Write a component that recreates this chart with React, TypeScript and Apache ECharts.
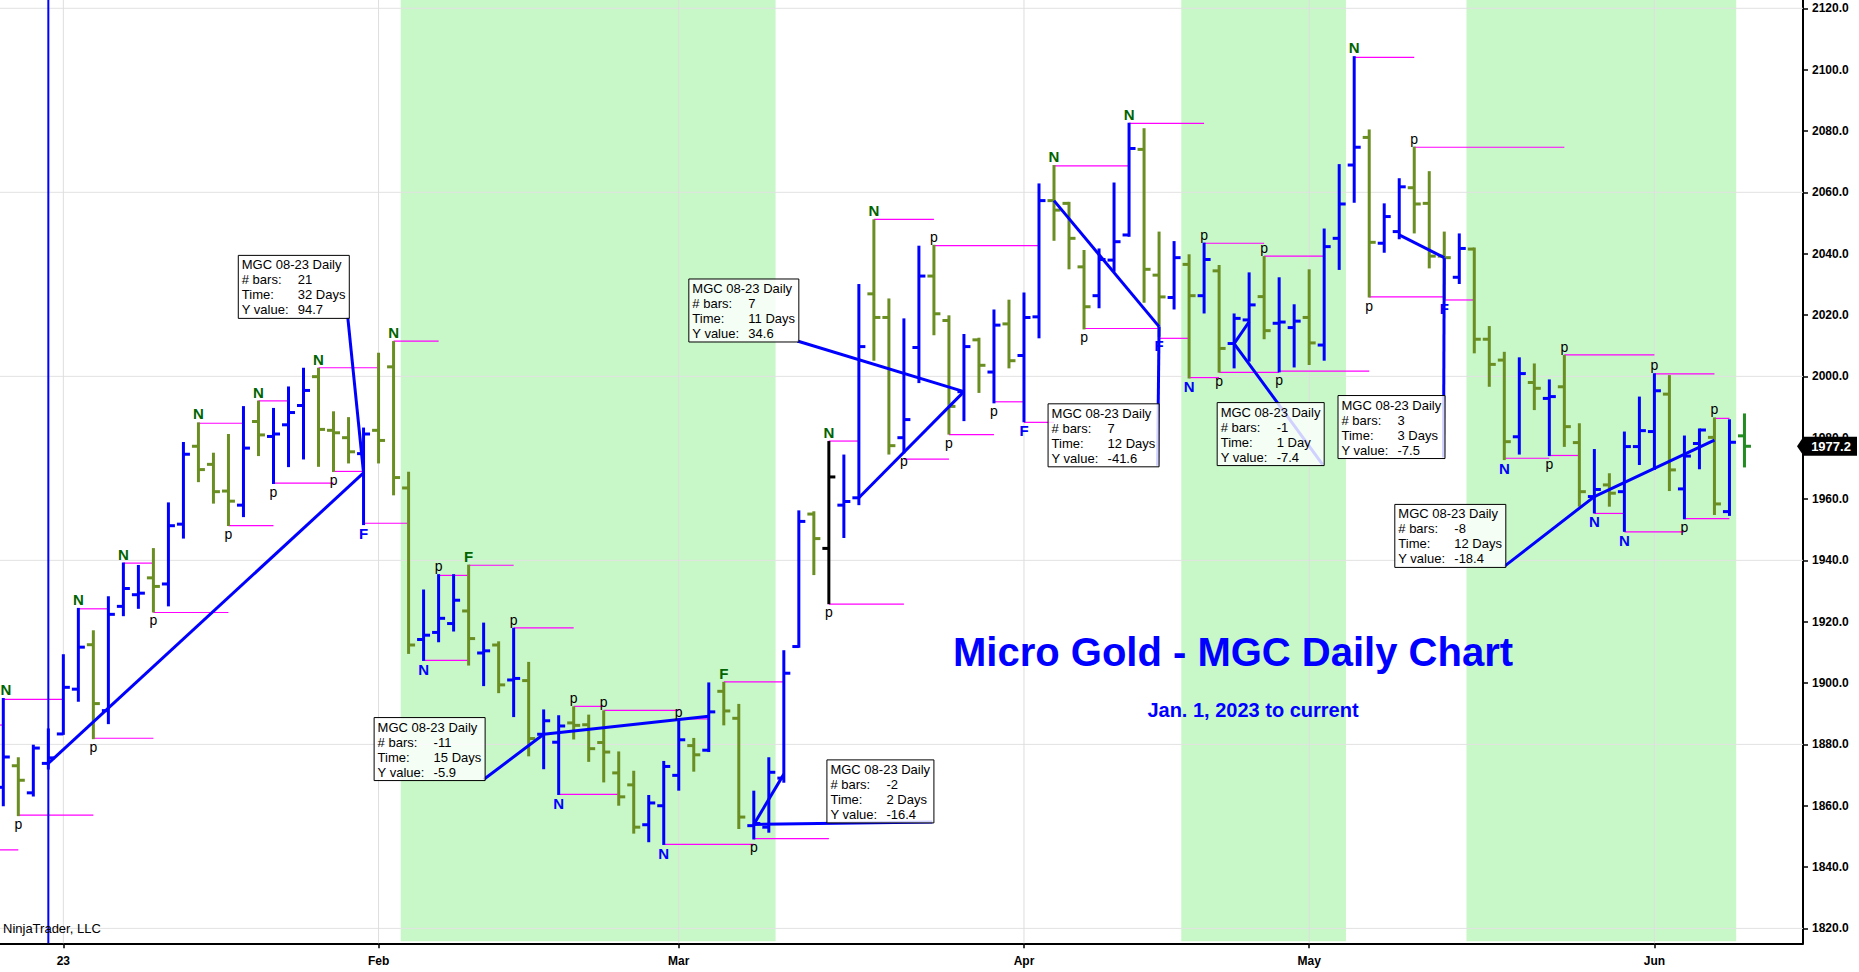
import React, { useEffect, useRef } from "react";
import * as echarts from "echarts";

// ---------- data (daily bars, index 0 = Dec 27 2022) ----------
const opens = [
  1866, 1873, 1864.2, 1873.8, 1883.4, 1898, 1912.5, 1891, 1925, 1928.8,
  1934.3, 1932.3, 1951.8, 1977.2, 1971.3, 1962.6, 1958, 1985.3, 1980.4, 1984.2,
  1990.5, 1999.9, 1982.4, 1980, 1974.8, 1982.4, 2003.1, 1963.6, 1914.2, 1916.5,
  1919.4, 1923.5, 1909.8, 1912.4, 1901, 1900.8, 1883.3, 1880.7, 1887, 1886.4,
  1880.6, 1870.7, 1866.8, 1853.8, 1860, 1869.9, 1879.6, 1878.1, 1897.3, 1888.5,
  1853.5, 1853, 1869, 1911.9, 1955.1, 1943.9, 1958, 1960.4, 2026.9, 2019.2,
  1980, 2009.4, 2032.7, 2018.2, 1995, 2011.9, 2001.4, 2017.1, 2006.8, 2019.4,
  2057.3, 2056.4, 2035.7, 2026.3, 2037.9, 2046.1, 2074, 2033, 2025.7, 2036.5,
  2026.3, 2034.4, 2010.7, 2018.4, 2026, 2017.3, 2015.9, 2019.2, 2010.2, 2045,
  2068.9, 2077.9, 2043.4, 2047.2, 2061.5, 2056.4, 2039.2, 2032.3, 2041.5, 2012.1,
  2005.3, 1980.3, 1998, 1992.8, 1996.6, 1978.4, 1960.8, 1964.6, 1962.4, 1977.1,
  1982, 1994.2, 1963.3, 1978.1, 1980.1, 1955.9, 1980.6,
];
const highs = [
  1895.1, 1875.8, 1879.9, 1885.2, 1909.4, 1924.5, 1917.2, 1928.3, 1939.3, 1938.5,
  1944, 1958.9, 1978.6, 1985, 1975.1, 1981.2, 1990.3, 1992.1, 1989.7, 1996.7,
  2002.8, 2002.8, 1988.6, 1986.7, 1983.3, 2007.7, 2011.5, 1968.9, 1930.5, 1935.5,
  1935.5, 1938.6, 1919.7, 1913.6, 1918, 1906.9, 1891.4, 1889.5, 1892.4, 1889.7,
  1891.1, 1877.7, 1871.4, 1863.5, 1874.6, 1888, 1882.1, 1900.2, 1900.4, 1893.2,
  1864.9, 1875.8, 1910.7, 1956.3, 1956, 1978.9, 1974.5, 2030.1, 2051.2, 2025.4,
  2018.9, 2042.6, 2042.9, 2019.9, 2013.8, 2012.6, 2021.8, 2025, 2027.3, 2062.9,
  2068.9, 2056.9, 2041.2, 2041.7, 2063.2, 2082.7, 2080.9, 2047.2, 2044.1, 2039.8,
  2043.6, 2036.3, 2020.5, 2033.9, 2039.2, 2032.3, 2023.5, 2034.9, 2048.2, 2069.2,
  2104.4, 2080.5, 2056.4, 2064.6, 2074.9, 2066.9, 2047.2, 2046.6, 2042, 2016.4,
  2008, 2006.2, 2004.2, 1999, 2007, 1984.7, 1976.3, 1968.4, 1982, 1993.4,
  2001, 2000.4, 1980.7, 1983, 1986.6, 1986, 1987.9,
];
const lows = [
  1859.8, 1856.6, 1863, 1871.8, 1883.1, 1893.9, 1881.7, 1886.6, 1921.8, 1924.2,
  1923, 1925, 1947.1, 1965.5, 1958.5, 1951.2, 1954.1, 1974, 1964.9, 1970.4,
  1972.9, 1970.5, 1968.8, 1971.6, 1951.5, 1971.6, 1961.2, 1909.5, 1907.2, 1913.3,
  1916.8, 1905.7, 1899, 1896.7, 1888.9, 1876.1, 1871.9, 1863.5, 1881.6, 1874.3,
  1867.6, 1860, 1850.9, 1848.1, 1847.2, 1864.9, 1871.1, 1877.5, 1886.2, 1852.4,
  1849, 1851.2, 1867.5, 1911.5, 1935.2, 1925.7, 1947.3, 1958, 2005.1, 1974.5,
  1974.9, 1997.8, 2013.4, 1981, 1985.4, 1994.6, 1991.2, 2002.6, 1985, 2012.4,
  2044.2, 2034.9, 2015.3, 2022.2, 2034.1, 2045.5, 2024, 2012.9, 2021.8, 1999.3,
  2020.5, 2001.2, 2002.6, 2004.8, 2012.1, 2001.3, 2002.9, 2003.7, 2005.1, 2034.7,
  2056.6, 2025.7, 2040.3, 2044.7, 2046.6, 2035.2, 2025, 2030.1, 2007.5, 1996.6,
  1972.7, 1974.5, 1989, 1974, 1977, 1957.5, 1955.3, 1957.5, 1949.3, 1971.1,
  1969.5, 1962.6, 1953.4, 1969.7, 1954.8, 1954.5, 1970.3,
];
const closes = [
  1875.9, 1868.3, 1878.8, 1875.6, 1898.6, 1911.7, 1893.3, 1922.4, 1930.8, 1929.3,
  1931.5, 1951.3, 1974.6, 1969.6, 1962.4, 1959.3, 1976.6, 1980.9, 1981.2, 1988.2,
  1995.4, 1982.7, 1981.6, 1975.4, 1981.2, 1979.1, 1967, 1912.4, 1915.6, 1921.1,
  1927, 1914.5, 1910.5, 1899.4, 1901.5, 1881.9, 1887.7, 1886, 1886.2, 1878.6,
  1877.5, 1862.9, 1853, 1860.9, 1872.8, 1881.5, 1876.6, 1890.6, 1890.9, 1856.3,
  1854.2, 1870.9, 1903.2, 1952.7, 1947.1, 1967.2, 1959.2, 2009.7, 2019.2, 1977.4,
  1985.9, 2032.7, 2020.4, 1990.2, 2009.7, 2003.6, 2016.7, 2005.1, 2019.2, 2057.3,
  2054.2, 2045, 2022.7, 2038.1, 2043.9, 2074.3, 2034.9, 2025.9, 2038.7, 2026.3,
  2038.1, 2009.1, 2018.9, 2023.3, 2014.9, 2017.7, 2018, 2010.9, 2042.3, 2056.2,
  2074.7, 2043.7, 2052.1, 2061.8, 2056.2, 2039.2, 2038.7, 2041.7, 2012.1, 2003.9,
  1978.7, 2000.9, 1996.1, 1993.4, 1983.6, 1962.4, 1963.1, 1961.9, 1977.1, 1982.3,
  1995.3, 1969.5, 1974, 1982.5, 1958.4, 1978.5, 1977.2,
];
const blackBars = [55];

const monthTickIdx = [4, 25, 45, 68, 87, 110];
const monthLabels = ["23", "Feb", "Mar", "Apr", "May", "Jun"];
const priceTicks = [
  1820, 1840, 1860, 1880, 1900, 1920, 1940, 1960, 1980, 2000,
  2020, 2040, 2060, 2080, 2100, 2120,
];
const priceGrid = [1820, 1880, 1940, 2000, 2060, 2120];

const bandStart = [27, 79, 98];
const bandEnd = [51, 89, 115];

// pivot levels (magenta): start bar, end bar, price
const levelStart = [-3, -2, 0, 1, 5, 6, 8, 10, 13, 15, 17, 18, 21, 22, 24, 26, 28, 29, 31, 34, 37, 38, 40, 44, 45, 48, 50, 55, 55, 58, 60, 62, 63, 66, 68, 70, 72, 75, 77, 79, 80, 81, 84, 85, 90, 91, 94, 96, 100, 103, 104, 106, 108, 110, 112, 114];
const levelEnd = [1, 0, 4, 6, 7, 10, 10, 15, 16, 18, 19, 22, 25, 24, 27, 29, 31, 31, 34, 38, 41, 40, 45, 50, 47, 52, 55, 57, 60, 62, 63, 69, 66, 68, 70, 75, 77, 80, 79, 81, 84, 85, 88, 91, 94, 96, 104, 98, 103, 105, 110, 108, 112, 114, 115, 115];
const levelValue = [1845.6, 1886.3, 1894.7, 1856.9, 1924.2, 1882, 1939.1, 1923, 1984.7, 1951.3, 1992, 1965.2, 2002.8, 1969, 1952.1, 2011.5, 1907.4, 1935.1, 1938.4, 1918, 1863.7, 1892.4, 1891.1, 1847.4, 1888.3, 1900.4, 1849.3, 1978.9, 1925.7, 2051.2, 1973, 2042.6, 1981, 1991.7, 1985, 2068.6, 2015.6, 2082.5, 2012.4, 1999.6, 2043.4, 2001.3, 2039.2, 2001.7, 2104, 2025.9, 2074.7, 2024.9, 1973.3, 1974.2, 2007, 1955.3, 1949.3, 2000.8, 1953.6, 1986.3];

// swing markers
const highN = [0, 5, 8, 13, 17, 21, 26, 55, 58, 70, 75, 90];
const lowN = [28, 37, 44, 79, 100, 106, 108];
const highP = [29, 34, 38, 40, 45, 62, 80, 84, 94, 104, 110, 114];
const lowP = [1, 6, 10, 15, 18, 22, 50, 55, 60, 63, 66, 72, 81, 85, 91, 103, 112];
const highF = [31, 48];
const lowF = [24, 68, 77, 96];

// rulers
const rulerFromIdx = [3, 47, 57, 70, 83, 93, 114, 52];
const rulerFromVal = [1873.8, 1889.2, 1960.4, 2057.3, 2017.8, 2046.1, 1979.2, 1870.3];
const rulerToIdx = [24, 36, 64, 77, 82, 96, 106, 50];
const rulerToVal = [1968.5, 1883.3, 1995.0, 2016.2, 2010.7, 2038.7, 1960.8, 1853.9];
const rulerTextIdx = [23.05, 32.1, 53.0, 77.0, 88.0, 96.05, 100.1, 62.0];
const rulerTextVal = [2018.9, 1868.2, 2011.2, 1970.5, 1970.9, 1973.2, 1937.7, 1854.4];
const rulerBars = ["21", "-11", "7", "7", "-1", "3", "-8", "-2"];
const rulerTime = ["32 Days", "15 Days", "11 Days", "12 Days", "1 Day", "3 Days", "12 Days", "2 Days"];
const rulerY = ["94.7", "-5.9", "34.6", "-41.6", "-7.4", "-7.5", "-18.4", "-16.4"];
const rulerRowLabels = ["# bars:", "Time:", "Y value:"];
const verticalLineIdx = [3];

const instrument = "MGC 08-23 Daily";
const titleText = "Micro Gold - MGC Daily Chart";
const subtitleText = "Jan. 1, 2023 to current";
const creditText = "NinjaTrader, LLC";

// ---------- layout ----------
const FONT = '"Liberation Sans", Arial, Helvetica, sans-serif';
const X_MIN = -0.22;
const X_MAX = 119.9;
const Y_MIN = 1815.14;
const Y_MAX = 2122.71;

const UP = "#0000ff";
const DOWN = "#6b8e23";
const LAST = "#228b22";
const HI_GREEN = "#006400";

type Marker = { i: number; t: string; side: "H" | "L"; c: string; bold: boolean; size: number };
const markers: Marker[] = [
  ...highN.map((i) => ({ i, t: "N", side: "H" as const, c: HI_GREEN, bold: true, size: 15 })),
  ...lowN.map((i) => ({ i, t: "N", side: "L" as const, c: UP, bold: true, size: 15 })),
  ...highF.map((i) => ({ i, t: "F", side: "H" as const, c: HI_GREEN, bold: true, size: 15 })),
  ...lowF.map((i) => ({ i, t: "F", side: "L" as const, c: UP, bold: true, size: 15 })),
  ...highP.map((i) => ({ i, t: "p", side: "H" as const, c: "#000", bold: false, size: 14 })),
  ...lowP.map((i) => ({ i, t: "p", side: "L" as const, c: "#000", bold: false, size: 14 })),
];

function barColor(i: number) {
  if (i === closes.length - 1) return LAST;
  if (blackBars.indexOf(i) >= 0) return "#000";
  return closes[i] >= opens[i] ? UP : DOWN;
}

let measureCtx: CanvasRenderingContext2D | null = null;
function textWidth(s: string, font: string) {
  if (!measureCtx) {
    const c = document.createElement("canvas");
    measureCtx = c.getContext("2d");
  }
  if (!measureCtx) return s.length * 7;
  measureCtx.font = font;
  return measureCtx.measureText(s).width;
}

export default function App() {
  const ref = useRef<HTMLDivElement>(null);
  useEffect(() => {
    const chart = echarts.init(ref.current as HTMLDivElement, null, { renderer: "svg" });
    const boxFont = `13px ${FONT}`;
    const colOffset = 56;

    const option: any = {
      animation: false,
      backgroundColor: "#ffffff",
      grid: { left: 0, top: 0, width: 1803, height: 943.3, containLabel: false, outerBoundsMode: "none" },
      xAxis: {
        type: "value",
        min: X_MIN,
        max: X_MAX,
        position: "bottom",
        axisLine: { show: true, onZero: false, lineStyle: { color: "#000", width: 2 } },
        axisTick: { show: true, inside: false, length: 5, customValues: monthTickIdx, lineStyle: { color: "#000", width: 1.5 } },
        axisLabel: {
          show: true,
          customValues: monthTickIdx,
          formatter: (v: number) => {
            const k = monthTickIdx.indexOf(Math.round(v));
            return k >= 0 ? monthLabels[k] : "";
          },
          color: "#000",
          fontWeight: "bold",
          fontSize: 12,
          fontFamily: FONT,
          margin: 12,
        },
        splitLine: { show: false },
      },
      yAxis: {
        type: "value",
        min: Y_MIN,
        max: Y_MAX,
        position: "right",
        scale: true,
        axisLine: { show: true, onZero: false, lineStyle: { color: "#000", width: 2 } },
        axisTick: { show: true, inside: false, length: 5, customValues: priceTicks, lineStyle: { color: "#000", width: 1.5 } },
        axisLabel: {
          show: true,
          customValues: priceTicks,
          formatter: (v: number) => v.toFixed(1),
          color: "#000",
          fontWeight: "bold",
          fontSize: 12,
          fontFamily: FONT,
          margin: 9,
        },
        splitLine: { show: false },
      },
      graphic: [
        {
          type: "text",
          x: 1233,
          y: 652,
          silent: true,
          style: { text: titleText, fill: "#0000ff", font: `bold 40px ${FONT}`, align: "center", verticalAlign: "middle" },
          z: 100,
        },
        {
          type: "text",
          x: 1253,
          y: 710,
          silent: true,
          style: { text: subtitleText, fill: "#0000ff", font: `bold 20px ${FONT}`, align: "center", verticalAlign: "middle" },
          z: 100,
        },
        {
          type: "text",
          x: 3,
          y: 928.5,
          silent: true,
          style: { text: creditText, fill: "#000", font: `13px ${FONT}`, align: "left", verticalAlign: "middle" },
          z: 100,
        },
      ],
      series: [
        // background bands
        {
          type: "custom",
          silent: true,
          clip: false,
          z: 1,
          data: bandStart.map((s, k) => [s, bandEnd[k]]),
          renderItem: (params: any, api: any) => {
            const cs = params.coordSys;
            const x1 = api.coord([api.value(0) - 0.52, Y_MIN])[0];
            const x2 = api.coord([api.value(1) + 0.45, Y_MIN])[0];
            return {
              type: "rect",
              shape: { x: x1, y: cs.y, width: x2 - x1, height: cs.height - 2 },
              style: { fill: "#c8f7c8" },
            };
          },
        },
        // grid lines
        {
          type: "custom",
          silent: true,
          clip: false,
          z: 2,
          data: [...priceGrid.map((v) => [0, v]), ...monthTickIdx.map((i) => [1, i])],
          renderItem: (params: any, api: any) => {
            const cs = params.coordSys;
            const kind = api.value(0);
            const val = api.value(1);
            if (kind === 0) {
              const y = api.coord([0, val])[1];
              return {
                type: "line",
                shape: { x1: cs.x, y1: y, x2: cs.x + cs.width, y2: y },
                style: { stroke: "#e2e2e2", lineWidth: 1 },
              };
            }
            const x = api.coord([val, Y_MIN])[0];
            return {
              type: "line",
              shape: { x1: x, y1: cs.y, x2: x, y2: cs.y + cs.height },
              style: { stroke: "#dedede", lineWidth: 1 },
            };
          },
        },
        // magenta pivot levels
        {
          type: "custom",
          silent: true,
          clip: false,
          z: 3,
          data: levelStart.map((s, k) => [s, levelValue[k], levelEnd[k]]),
          renderItem: (params: any, api: any) => {
            const p1 = api.coord([api.value(0), api.value(1)]);
            const p2 = api.coord([api.value(2), api.value(1)]);
            return {
              type: "line",
              shape: { x1: p1[0], y1: p1[1], x2: p2[0], y2: p2[1] },
              style: { stroke: "#ff00ff", lineWidth: 1.2 },
            };
          },
        },
        // vertical blue line
        {
          type: "custom",
          silent: true,
          clip: false,
          z: 4,
          data: verticalLineIdx.map((i) => [i, Y_MIN]),
          renderItem: (params: any, api: any) => {
            const x = api.coord([api.value(0), Y_MIN])[0];
            const yTop = api.coord([0, Y_MAX])[1];
            const yBot = api.coord([0, Y_MIN])[1];
            return {
              type: "line",
              shape: { x1: x, y1: yTop, x2: x, y2: yBot },
              style: { stroke: "#0000ff", lineWidth: 2 },
            };
          },
        },
        // OHLC bars
        {
          type: "custom",
          silent: true,
          clip: false,
          z: 5,
          data: opens.map((o, i) => [i, o, highs[i], lows[i], closes[i]]),
          renderItem: (params: any, api: any) => {
            const i = api.value(0);
            const color = barColor(i);
            const pH = api.coord([i, api.value(2)]);
            const pL = api.coord([i, api.value(3)]);
            const pO = api.coord([i, api.value(1)]);
            const pC = api.coord([i, api.value(4)]);
            const cx = pH[0];
            return {
              type: "group",
              children: [
                { type: "rect", shape: { x: cx - 1.5, y: pH[1], width: 3, height: Math.max(1, pL[1] - pH[1]) }, style: { fill: color } },
                { type: "rect", shape: { x: cx - 6.5, y: pO[1] - 1.5, width: 6.5, height: 3 }, style: { fill: color } },
                { type: "rect", shape: { x: cx, y: pC[1] - 1.5, width: 6.5, height: 3 }, style: { fill: color } },
              ],
            };
          },
        },
        // ruler lines
        {
          type: "custom",
          silent: true,
          clip: false,
          z: 6,
          data: rulerFromIdx.map((s, k) => [s, rulerFromVal[k], k]),
          renderItem: (params: any, api: any) => {
            const k = params.dataIndex;
            const a = api.coord([rulerFromIdx[k], rulerFromVal[k]]);
            const b = api.coord([rulerToIdx[k], rulerToVal[k]]);
            const c = api.coord([rulerTextIdx[k], rulerTextVal[k]]);
            return {
              type: "group",
              children: [
                { type: "line", shape: { x1: a[0], y1: a[1], x2: b[0], y2: b[1] }, style: { stroke: "#0000ff", lineWidth: 3 } },
                { type: "line", shape: { x1: b[0], y1: b[1], x2: c[0] - 1.5, y2: c[1] - 1 }, style: { stroke: "#0000ff", lineWidth: 3 } },
              ],
            };
          },
        },
        // swing markers
        {
          type: "custom",
          silent: true,
          clip: false,
          z: 7,
          data: markers.map((m, k) => [m.i, m.side === "H" ? highs[m.i] : lows[m.i], k]),
          renderItem: (params: any, api: any) => {
            const m = markers[params.dataIndex];
            const p = api.coord([api.value(0), api.value(1)]);
            const above = m.side === "H";
            return {
              type: "text",
              x: Math.max(p[0], 6),
              y: above ? p[1] - 1 : p[1] + 1,
              style: {
                text: m.t,
                fill: m.c,
                font: `${m.bold ? "bold " : ""}${m.size}px ${FONT}`,
                align: "center",
                verticalAlign: above ? "bottom" : "top",
              },
            };
          },
        },
        // ruler text boxes
        {
          type: "custom",
          silent: true,
          clip: false,
          z: 8,
          data: rulerTextIdx.map((x, k) => [x, rulerTextVal[k], k]),
          renderItem: (params: any, api: any) => {
            const k = params.dataIndex;
            const p = api.coord([api.value(0), api.value(1)]);
            const values = [rulerBars[k], rulerTime[k], rulerY[k]];
            let inner = textWidth(instrument, boxFont);
            values.forEach((v) => {
              inner = Math.max(inner, colOffset + textWidth(v, boxFont));
            });
            const W = Math.round(inner + 7);
            const H = 63;
            const x0 = p[0] - W;
            const y0 = p[1] - H;
            const children: any[] = [
              {
                type: "rect",
                shape: { x: x0, y: y0, width: W, height: H },
                style: { fill: "rgba(255,255,255,0.82)", stroke: "#000", lineWidth: 1 },
              },
              {
                type: "text",
                x: x0 + 3.5,
                y: y0 + 9.5,
                style: { text: instrument, fill: "#000", font: boxFont, align: "left", verticalAlign: "middle" },
              },
            ];
            values.forEach((v, j) => {
              const yy = y0 + 9.5 + 15 * (j + 1);
              children.push({
                type: "text",
                x: x0 + 3.5,
                y: yy,
                style: { text: rulerRowLabels[j], fill: "#000", font: boxFont, align: "left", verticalAlign: "middle" },
              });
              children.push({
                type: "text",
                x: x0 + 3.5 + colOffset,
                y: yy,
                style: { text: v, fill: "#000", font: boxFont, align: "left", verticalAlign: "middle" },
              });
            });
            return { type: "group", children };
          },
        },
        // last price marker
        {
          type: "custom",
          silent: true,
          clip: false,
          z: 20,
          data: [[closes.length - 1, closes[closes.length - 1]]],
          renderItem: (params: any, api: any) => {
            const cs = params.coordSys;
            const y = api.coord([api.value(0), api.value(1)])[1];
            const ax = cs.x + cs.width;
            const h = 9.5;
            return {
              type: "group",
              children: [
                {
                  type: "polygon",
                  shape: {
                    points: [
                      [ax - 6, y],
                      [ax + 0.5, y - h],
                      [ax + 54, y - h],
                      [ax + 54, y + h],
                      [ax + 0.5, y + h],
                    ],
                  },
                  style: { fill: "#000" },
                },
                {
                  type: "text",
                  x: ax + 28,
                  y: y,
                  style: {
                    text: api.value(1).toFixed(1),
                    fill: "#fff",
                    font: `bold 13px ${FONT}`,
                    align: "center",
                    verticalAlign: "middle",
                  },
                },
              ],
            };
          },
        },
      ],
    };

    chart.setOption(option);
    return () => {
      chart.dispose();
    };
  }, []);

  return (
    <div
      ref={ref}
      style={{ position: "absolute", left: 0, top: 0, width: 1859, height: 972, background: "#fff" }}
    />
  );
}
